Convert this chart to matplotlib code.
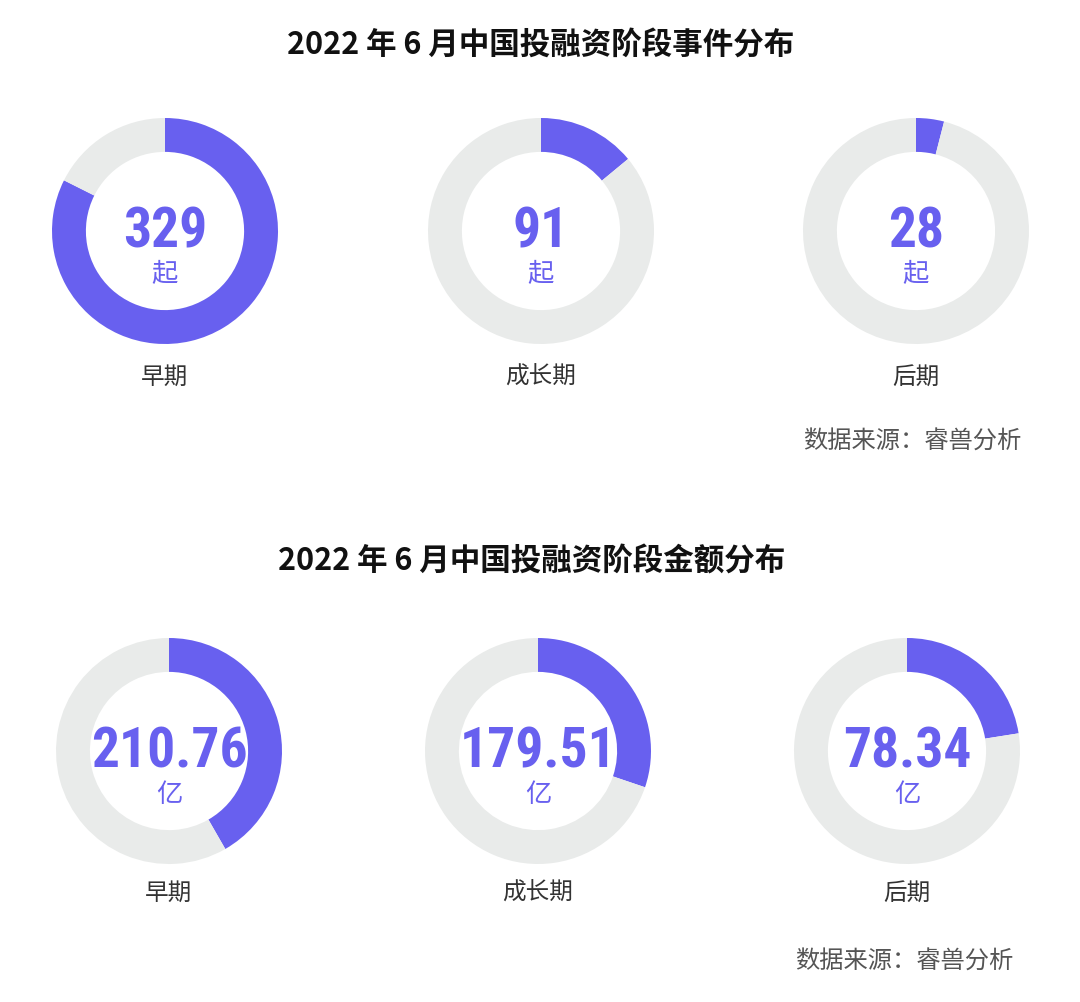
import matplotlib.pyplot as plt

# data
stages = ['早期', '成长期', '后期']
event_labels = ['329', '91', '28']
# arc share of each ring
event_share = [0.824, 0.14, 0.04]
amount_labels = ['210.76', '179.51', '78.34']
amount_share = [0.417, 0.302, 0.225]

title1 = '2022 年 6 月中国投融资阶段事件分布'
title2 = '2022 年 6 月中国投融资阶段金额分布'
source = '数据来源：睿兽分析'

purple = '#6860ef'
grey = '#e9ebea'
cjk = ['Noto Sans CJK SC', 'DejaVu Sans']
num_font = ['Roboto Condensed', 'Liberation Sans Narrow', 'DejaVu Sans']

W, H = 1080, 1002
fig = plt.figure(figsize=(W / 100, H / 100), dpi=100)
fig.patch.set_facecolor('white')


def fx(x):
    return x / W


def fy(y):
    return 1 - y / H


def donut(cx, cy, r, share):
    ax = fig.add_axes([fx(cx - r), fy(cy + r), 2 * r / W, 2 * r / H])
    ax.pie([share, 1 - share], colors=[purple, grey], startangle=90,
           counterclock=False, radius=1, normalize=True,
           wedgeprops=dict(width=0.3, linewidth=0))
    ax.set_xlim(-1, 1)
    ax.set_ylim(-1, 1)
    ax.set_aspect('equal')
    ax.axis('off')


def row(shares, labels, unit, centers, cy, label_y, title, title_xy, src_xy):
    for (cx, s, lab, st) in zip(centers, shares, labels, stages):
        donut(cx, cy, 113, s)
        fig.text(fx(cx), fy(cy + 17), lab, ha='center', va='baseline', color=purple,
                 fontsize=40, fontweight='bold', family=num_font)
        fig.text(fx(cx), fy(cy + 44), unit, ha='center', va='center', color=purple,
                 fontsize=19, family=cjk)
        fig.text(fx(cx), fy(label_y), st, ha='center', va='center', color='#333333',
                 fontsize=17, family=cjk)
    fig.text(fx(title_xy[0]), fy(title_xy[1]), title, ha='center', va='center',
             color='#111111', fontsize=22, fontweight='bold', family=cjk)
    fig.text(fx(src_xy[0]), fy(src_xy[1]), source, ha='right', va='center',
             color='#555555', fontsize=17.5, family=cjk)


row(event_share, event_labels, '起', [165, 541, 916], 231, 377,
    title1, (541, 45), (1021, 442))
row(amount_share, amount_labels, '亿', [169, 538, 907], 751, 893,
    title2, (532, 562), (1013, 962))

fig.savefig('out.png', dpi=100, facecolor='white')
